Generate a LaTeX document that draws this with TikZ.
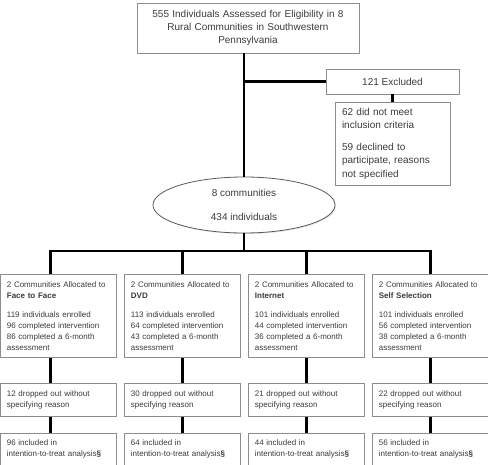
\documentclass[tikz,border=0pt]{standalone}
\usepackage{fontspec}
\setmainfont{Liberation Sans}
\usetikzlibrary{positioning,shapes.geometric,shadows}

\definecolor{boxline}{HTML}{8C8C8C}
\definecolor{boxtext}{HTML}{3C3C3C}

\tikzset{
  box/.style={draw=boxline, line width=0.8pt, fill=white, text=boxtext, inner sep=0pt,
    drop shadow={shadow xshift=1pt, shadow yshift=-1pt, opacity=0.2}},
  bigbox/.style={box, font=\fontsize{10}{13.3}\selectfont, align=center},
  armbox/.style={box, font=\fontsize{8}{11}\selectfont, align=left,
    text width=103pt, inner xsep=6.5pt},
  link/.style={line width=2.4pt, black}
}

\begin{document}
\begin{tikzpicture}[x=1pt, y=-1pt]
  \useasboundingbox (0,0) rectangle (488,465);

  % Define nodes
  \node[bigbox, text width=210pt, inner xsep=6pt, minimum height=50pt] (assessed) at (248,28)
    {555 Individuals Assessed for Eligibility in 8\\Rural Communities in Southwestern\\Pennsylvania};
  \node[bigbox, minimum width=133pt, minimum height=25pt] (excluded) at (392.5,81.5) {121 Excluded};
  \node[bigbox, align=left, text width=101pt, inner xsep=7pt, minimum height=83pt] (reasons) at (392.5,143.5)
    {62 did not meet\\inclusion criteria\\[8.7pt]59 declined to\\participate, reasons\\not specified};
  \node[bigbox, ellipse, draw=black!65, minimum width=182pt, minimum height=56pt] (communities) at (244,205)
    {8 communities\\[10pt]434 individuals};

  \node[armbox, minimum height=83pt, anchor=north west] (facetoface) at (0,274)
    {2 Communities Allocated to\\\textbf{Face to Face}\\[8pt]119 individuals enrolled\\96 completed intervention\\86 completed a 6-month\\assessment};
  \node[armbox, minimum height=83pt, anchor=north west] (dvd) at (124,274)
    {2 Communities Allocated to\\\textbf{DVD}\\[8pt]113 individuals enrolled\\64 completed intervention\\43 completed a 6-month\\assessment};
  \node[armbox, minimum height=83pt, anchor=north west] (internet) at (248,274)
    {2 Communities Allocated to\\\textbf{Internet}\\[8pt]101 individuals enrolled\\44 completed intervention\\36 completed a 6-month\\assessment};
  \node[armbox, minimum height=83pt, anchor=north west] (selfsel) at (372,274)
    {2 Communities Allocated to\\\textbf{Self Selection}\\[8pt]101 individuals enrolled\\56 completed intervention\\38 completed a 6-month\\assessment};

  \node[armbox, minimum height=33pt, below=25pt of facetoface] (dropf) {12 dropped out without\\specifying reason};
  \node[armbox, minimum height=33pt, below=25pt of dvd]        (dropd) {30 dropped out without\\specifying reason};
  \node[armbox, minimum height=33pt, below=25pt of internet]   (dropi) {21 dropped out without\\specifying reason};
  \node[armbox, minimum height=33pt, below=25pt of selfsel]    (drops) {22 dropped out without\\specifying reason};

  \node[armbox, minimum height=32pt, below=16pt of dropf] (ittf) {96 included in\\intention-to-treat analysis\textbf{\S}};
  \node[armbox, minimum height=32pt, below=16pt of dropd] (ittd) {64 included in\\intention-to-treat analysis\textbf{\S}};
  \node[armbox, minimum height=32pt, below=16pt of dropi] (itti) {44 included in\\intention-to-treat analysis\textbf{\S}};
  \node[armbox, minimum height=32pt, below=16pt of drops] (itts) {56 included in\\intention-to-treat analysis\textbf{\S}};

  \coordinate (bus) at (244,251);

  % Connect the nodes
  \draw[link] (communities.north) -- (communities.north |- assessed.south);
  \draw[link] (communities.north |- excluded.west) -- (excluded.west);
  \draw[link] (excluded.south) -- (reasons.north);
  \draw[link] (communities.south) -- (bus);
  \draw[link] ([xshift=-8pt]facetoface.north) |- (bus -| selfsel.north) -- (selfsel.north);
  \draw[link] (dvd.north |- bus) -- (dvd.north);
  \draw[link] (internet.north |- bus) -- (internet.north);
  \draw[link] ([xshift=-8pt]facetoface.south) -- ([xshift=-8pt]dropf.north);
  \draw[link] ([xshift=-8pt]dropf.south) -- ([xshift=-8pt]ittf.north);
  \draw[link] (dvd) -- (dropd) -- (ittd);
  \draw[link] (internet) -- (dropi) -- (itti);
  \draw[link] (selfsel) -- (drops) -- (itts);
\end{tikzpicture}
\end{document}
